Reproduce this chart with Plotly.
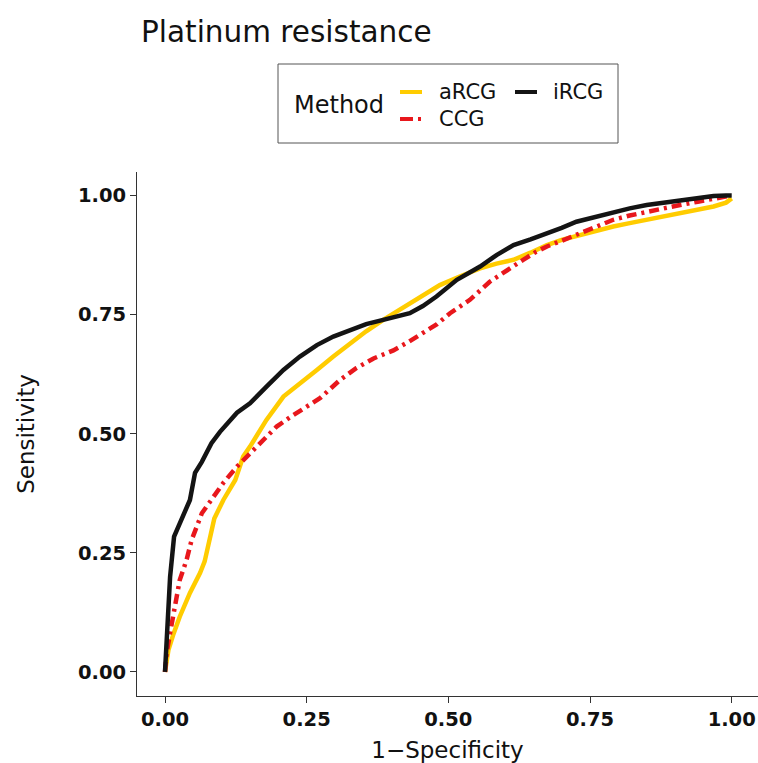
import plotly.graph_objects as go

# ---- data ----
methods = ["aRCG", "CCG", "iRCG"]
colors = {"aRCG": "#FFCC00", "CCG": "#E8171C", "iRCG": "#141414"}

arcg_fpr = [0, 0.003, 0.006, 0.015, 0.026, 0.044, 0.062, 0.07, 0.076, 0.081, 0.087, 0.103, 0.124, 0.138, 0.15, 0.165,
            0.179, 0.209, 0.238, 0.268, 0.297, 0.326, 0.355, 0.385, 0.41, 0.432, 0.46, 0.485, 0.52, 0.556,
            0.585, 0.615, 0.645, 0.674, 0.70, 0.732, 0.76, 0.791, 0.82, 0.85, 0.88, 0.909, 0.94, 0.968, 0.99, 1.0]
arcg_tpr = [0, 0.03, 0.046, 0.08, 0.116, 0.166, 0.208, 0.232, 0.26, 0.29, 0.322, 0.361, 0.403, 0.452, 0.473, 0.50,
            0.529, 0.578, 0.607, 0.634, 0.662, 0.69, 0.715, 0.739, 0.757, 0.774, 0.795, 0.812, 0.83, 0.847,
            0.857, 0.865, 0.88, 0.896, 0.907, 0.917, 0.926, 0.935, 0.942, 0.949, 0.956, 0.963, 0.97, 0.977, 0.985, 0.994]

ccg_fpr = [0, 0.003, 0.009, 0.018, 0.026, 0.038, 0.047, 0.065, 0.082, 0.103, 0.127, 0.15, 0.168, 0.197,
           0.225, 0.25, 0.274, 0.309, 0.338, 0.368, 0.403, 0.43, 0.456, 0.48, 0.503, 0.538, 0.573, 0.605,
           0.632, 0.655, 0.674, 0.70, 0.732, 0.76, 0.791, 0.82, 0.85, 0.88, 0.909, 0.94, 0.968, 0.99, 1.0]
ccg_tpr = [0, 0.04, 0.082, 0.137, 0.193, 0.235, 0.277, 0.333, 0.361, 0.397, 0.431, 0.459, 0.48, 0.515,
           0.538, 0.557, 0.575, 0.613, 0.638, 0.658, 0.675, 0.693, 0.711, 0.73, 0.753, 0.781, 0.819, 0.845,
           0.865, 0.882, 0.893, 0.905, 0.92, 0.935, 0.949, 0.958, 0.966, 0.973, 0.98, 0.987, 0.994, 0.998, 1.0]

ircg_fpr = [0, 0.002, 0.003, 0.009, 0.016, 0.026, 0.044, 0.053, 0.065, 0.082, 0.097, 0.127, 0.15, 0.18,
            0.209, 0.238, 0.268, 0.297, 0.326, 0.355, 0.385, 0.41, 0.432, 0.455, 0.479, 0.515, 0.556, 0.585,
            0.615, 0.645, 0.674, 0.70, 0.726, 0.76, 0.791, 0.82, 0.85, 0.88, 0.909, 0.94, 0.968, 0.99, 1.0]
ircg_tpr = [0, 0.05, 0.095, 0.2, 0.284, 0.313, 0.361, 0.418, 0.441, 0.48, 0.504, 0.544, 0.564, 0.60,
            0.634, 0.662, 0.686, 0.704, 0.718, 0.73, 0.739, 0.746, 0.753, 0.768, 0.788, 0.823, 0.851, 0.875,
            0.896, 0.908, 0.92, 0.932, 0.945, 0.956, 0.966, 0.973, 0.98, 0.985, 0.99, 0.995, 0.999, 1.0, 1.0]

x_ticks = [0.0, 0.25, 0.5, 0.75, 1.0]
x_tick_labels = ["0.00", "0.25", "0.50", "0.75", "1.00"]
y_ticks = [0.0, 0.25, 0.5, 0.75, 1.0]
y_tick_labels = ["0.00", "0.25", "0.50", "0.75", "1.00"]

series = {"aRCG": (arcg_fpr, arcg_tpr), "CCG": (ccg_fpr, ccg_tpr), "iRCG": (ircg_fpr, ircg_tpr)}
dashes = {"aRCG": "solid", "CCG": "10px,5px,3px,5px", "iRCG": "solid"}

FONT = "DejaVu Sans"
W, H = 758, 763
L, R, T, B = 137, 758, 172, 696


def px(x):
    return (x - L) / (R - L)


def py(y):
    return (B - y) / (B - T)


fig = go.Figure()
for m in methods:
    xs, ys = series[m]
    fig.add_trace(go.Scatter(x=xs, y=ys, mode="lines", name=m,
                             line=dict(color=colors[m], width=4.5, dash=dashes[m]),
                             showlegend=False))

axis_common = dict(showline=True, linecolor="#333333", linewidth=1, ticks="outside", ticklen=6,
                   tickwidth=1, tickcolor="#333333", showgrid=False, zeroline=False,
                   tickfont=dict(family=FONT, size=19.5, color="#111111", weight="bold"))

fig.update_xaxes(range=[-0.0494, 1.0464], tickvals=x_ticks, ticktext=x_tick_labels,
                 title=dict(text="1−Specificity", font=dict(family=FONT, size=23, color="#111111"), standoff=12),
                 **axis_common)
fig.update_yaxes(range=[-0.0504, 1.0493], tickvals=y_ticks, ticktext=y_tick_labels,
                 title=dict(text="Sensitivity", font=dict(family=FONT, size=23, color="#111111"), standoff=36),
                 **axis_common)

shapes = []
annotations = []
# title
annotations.append(dict(text="Platinum resistance", x=px(139), y=py(32), xref="paper", yref="paper",
                        xanchor="left", yanchor="middle", showarrow=False,
                        font=dict(family=FONT, size=29.5, color="#111111")))
# legend box
shapes.append(dict(type="rect", xref="paper", yref="paper", x0=px(278), x1=px(618), y0=py(64), y1=py(143),
                   line=dict(color="#555555", width=1), fillcolor="white", layer="above"))
annotations.append(dict(text="Method", x=px(292), y=py(105), xref="paper", yref="paper",
                        xanchor="left", yanchor="middle", showarrow=False,
                        font=dict(family=FONT, size=24, color="#111111")))
legend_pos = {"aRCG": (400, 92, 437), "CCG": (400, 119, 437), "iRCG": (515, 92, 551)}
for m in methods:
    x0, yy, tx = legend_pos[m]
    shapes.append(dict(type="line", xref="paper", yref="paper", x0=px(x0), x1=px(x0 + 22), y0=py(yy), y1=py(yy),
                       line=dict(color=colors[m], width=4, dash=dashes[m] if m != "CCG" else "13px,5px,3px,5px")))
    annotations.append(dict(text=m, x=px(tx), y=py(yy), xref="paper", yref="paper",
                            xanchor="left", yanchor="middle", showarrow=False,
                            font=dict(family=FONT, size=21, color="#111111")))

fig.update_layout(width=W, height=H, margin=dict(l=L, r=W - R, t=T, b=H - B, pad=0),
                  plot_bgcolor="white", paper_bgcolor="white", showlegend=False,
                  shapes=shapes, annotations=annotations)

fig.write_html("out.html", config={"displayModeBar": False},
               post_script="document.body.style.margin='0';document.body.style.overflow='hidden';")
